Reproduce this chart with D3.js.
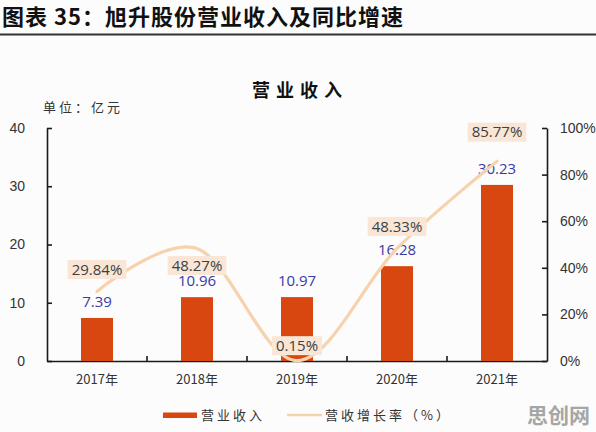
<!DOCTYPE html>
<html>
<head>
<meta charset="utf-8">
<script src="https://cdn.jsdelivr.net/npm/d3@7"></script>
<style>
  body { margin: 0; background: #fff; }
  svg { display: block; font-family: "Noto Sans CJK SC", "Noto Sans", sans-serif; }
</style>
</head>
<body>
<div id="vis-container"></div>
<script>
let years = ["2017年", "2018年", "2019年", "2020年", "2021年"];
let revenue = [7.39, 10.96, 10.97, 16.28, 30.23];
let growth = [0.2984, 0.4827, 0.0015, 0.4833, 0.8577];
let growth_labels = ["29.84%", "48.27%", "0.15%", "48.33%", "85.77%"];
let left_ticks = [0, 10, 20, 30, 40];
let right_ticks = [0, 0.2, 0.4, 0.6, 0.8, 1.0];

// label placement offsets (layout only)
let growth_label_dy = [-22, 17, -15, -22, -29];

let width = 596, height = 432;
let bar_color = "#d8470f";
let line_color = "#f7d2ad";

let svg = d3.select("#vis-container").append("svg")
    .attr("width", width)
    .attr("height", height);

svg.append("rect").attr("width", width).attr("height", height).attr("fill", "#fcfcfd");

// header
svg.append("text")
    .attr("x", 2).attr("y", 25)
    .attr("font-size", 22).attr("font-weight", "bold")
    .attr("fill", "#111")
    .attr("letter-spacing", 1)
    .text("图表 35：旭升股份营业收入及同比增速");
svg.append("line")
    .attr("x1", 0).attr("x2", width).attr("y1", 34.5).attr("y2", 34.5)
    .attr("stroke", "#333").attr("stroke-width", 2);

// chart title
svg.append("text")
    .attr("x", 300).attr("y", 97)
    .attr("text-anchor", "middle")
    .attr("font-size", 18).attr("font-weight", "bold")
    .attr("letter-spacing", 6)
    .attr("fill", "#111")
    .text("营业收入");

svg.append("text")
    .attr("x", 43).attr("y", 112)
    .attr("font-size", 13).attr("letter-spacing", 3)
    .attr("fill", "#333")
    .text("单位：亿元");

let x = d3.scaleBand()
    .domain(years)
    .range([47, 547])
    .paddingInner(0.68)
    .paddingOuter(0.34);

let yL = d3.scaleLinear().domain([0, 40]).range([361, 128]);
let yR = d3.scaleLinear().domain([0, 1]).range([361, 128]);

// left axis
let gL = svg.append("g")
    .attr("transform", "translate(47,0)")
    .call(d3.axisLeft(yL).tickValues(left_ticks).tickSizeInner(-5).tickSizeOuter(0).tickPadding(22));
// right axis
let gR = svg.append("g")
    .attr("transform", "translate(547,0)")
    .call(d3.axisRight(yR).tickValues(right_ticks).tickFormat(d3.format(".0%")).tickSizeInner(-5).tickSizeOuter(0).tickPadding(13));
// bottom axis
let gB = svg.append("g")
    .attr("transform", "translate(0,361)")
    .call(d3.axisBottom(x).tickSize(0).tickPadding(14));

[gL, gR, gB].forEach(g => {
  g.selectAll("path, line").attr("stroke", "#1a1a1a").attr("stroke-width", 1.6);
  g.selectAll("text").attr("fill", "#333").attr("font-size", 14)
    .attr("font-family", "'Liberation Sans', Arial, sans-serif");
});
gB.selectAll("text").attr("font-size", 13).attr("font-family", "'Noto Sans CJK SC', sans-serif");

// category boundary ticks
gB.selectAll(".bound")
  .data(years.slice(0, -1))
  .enter().append("line")
    .attr("x1", d => x(d) + x.bandwidth() / 2 + x.step() / 2)
    .attr("x2", d => x(d) + x.bandwidth() / 2 + x.step() / 2)
    .attr("y1", 0).attr("y2", -5)
    .attr("stroke", "#1a1a1a").attr("stroke-width", 1.6);

// bars
svg.append("g").selectAll("rect")
  .data(revenue)
  .enter().append("rect")
    .attr("x", (d, i) => x(years[i]))
    .attr("y", d => yL(d))
    .attr("width", x.bandwidth())
    .attr("height", d => yL(0) - yL(d))
    .attr("fill", bar_color);

svg.append("g").selectAll("text")
  .data(revenue)
  .enter().append("text")
    .attr("x", (d, i) => x(years[i]) + x.bandwidth() / 2)
    .attr("y", d => yL(d) - 11)
    .attr("text-anchor", "middle")
    .attr("font-size", 15)
    .attr("font-family", "'Open Sans', 'Liberation Sans', sans-serif")
    .attr("fill", "#3a3aa6")
    .text(d => d.toFixed(2));

// growth line
let cx = (d, i) => x(years[i]) + x.bandwidth() / 2;
let line = d3.line()
    .x(cx)
    .y(d => yR(d))
    .curve(d3.curveCardinal.tension(0));

svg.append("path")
    .datum(growth)
    .attr("d", line)
    .attr("fill", "none")
    .attr("stroke", line_color)
    .attr("stroke-width", 3.2)
    .attr("stroke-linecap", "round");

// growth labels
let gl = svg.append("g").selectAll("g")
  .data(growth)
  .enter().append("g")
    .attr("transform", (d, i) => `translate(${cx(d, i)},${yR(d) + growth_label_dy[i]})`);

gl.append("text")
    .attr("text-anchor", "middle")
    .attr("dy", "0.35em")
    .attr("font-size", 15)
    .attr("font-family", "'Open Sans', 'Liberation Sans', sans-serif")
    .attr("fill", "#404040")
    .text((d, i) => growth_labels[i])
    .each(function () {
      let b = this.getBBox();
      d3.select(this.parentNode).insert("rect", "text")
        .attr("x", b.x - 4).attr("y", -9.5)
        .attr("width", b.width + 8).attr("height", 19)
        .attr("fill", "#f9e6d6");
    });

// legend
svg.append("rect")
    .attr("x", 163).attr("y", 412.5).attr("width", 34).attr("height", 5.5)
    .attr("fill", bar_color);
svg.append("text")
    .attr("x", 201).attr("y", 420)
    .attr("font-size", 13).attr("letter-spacing", 3).attr("fill", "#333")
    .text("营业收入");
svg.append("line")
    .attr("x1", 287).attr("x2", 322).attr("y1", 415).attr("y2", 415)
    .attr("stroke", line_color).attr("stroke-width", 2.5);
svg.append("text")
    .attr("x", 325).attr("y", 420)
    .attr("font-size", 13).attr("letter-spacing", 3).attr("fill", "#333")
    .text("营收增长率（%）");

// watermark
svg.append("text")
    .attr("x", 590).attr("y", 423)
    .attr("text-anchor", "end")
    .attr("font-size", 21).attr("font-weight", "bold")
    .attr("fill", "#a6a6a6")
    .text("思创网");
</script>
</body>
</html>
